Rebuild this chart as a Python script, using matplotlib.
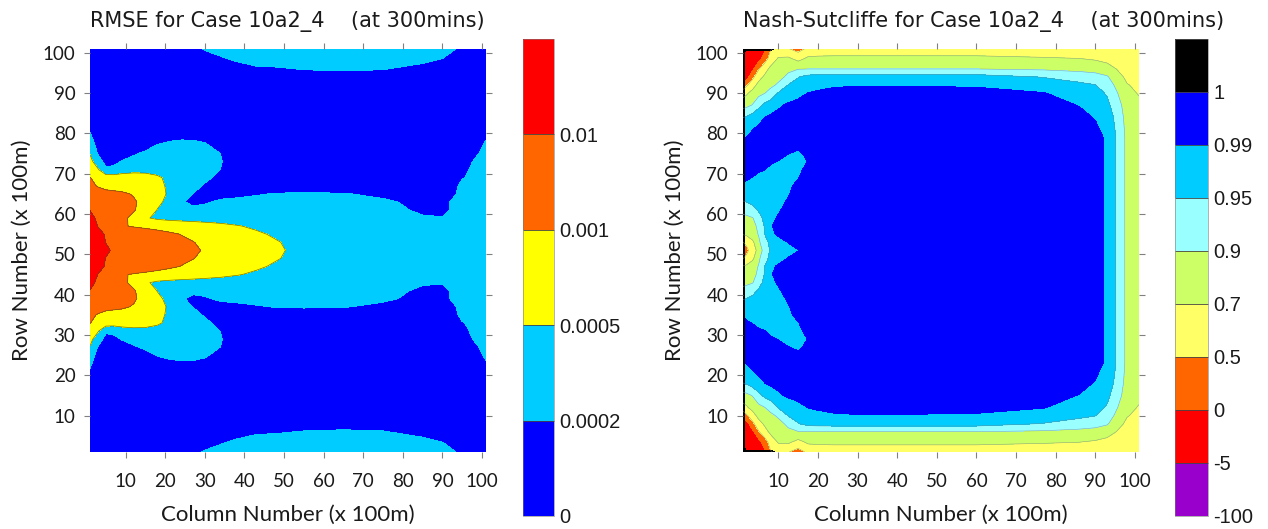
"""RMSE and Nash-Sutcliffe contour maps for case 10a2_4 at 300 mins."""

import numpy as np
import matplotlib

matplotlib.use("Agg")
import matplotlib.pyplot as plt
from matplotlib import font_manager


def pick_font(*names):
    for n in names:
        try:
            font_manager.findfont(font_manager.FontProperties(family=n), fallback_to_default=False)
            return n
        except ValueError:
            pass
    return "DejaVu Sans"


F_TITLE = pick_font("Liberation Sans Narrow", "DejaVu Sans")
F_AXIS = pick_font("Lato", "Open Sans", "DejaVu Sans")
F_CBAR = pick_font("Liberation Sans", "DejaVu Sans")
plt.rcParams["font.family"] = F_AXIS

# ── RMSE field (band position, upper half y >= 51, mirrored about row 51) ─────
# band: 0-1 <0.0002, 1-2 0.0002-0.0005, 2-3 0.0005-0.001, 3-4 0.001-0.01, 4-5 >0.01
rmse_cols = [1, 3, 5, 7, 9, 12, 15, 18, 21, 24, 27, 30, 34, 38, 43, 48, 55, 65, 75, 85, 90, 95, 101]
rmse_rows = [51, 53, 55, 57, 59, 61, 63, 65, 67, 69, 71, 73, 75, 77, 79, 82, 86, 90, 94, 97, 99, 101]
rmse_band = [
    [4.8, 4.5, 4.1, 3.92, 3.87, 3.74, 3.61, 3.48, 3.35, 3.22, 3.09, 2.95, 2.76, 2.57, 2.33, 2.1, 1.8, 1.55, 1.45, 1.4, 1.4, 1.45, 1.5],
    [4.7, 4.35, 3.98, 3.9, 3.82, 3.7, 3.57, 3.43, 3.3, 3.16, 3.02, 2.87, 2.68, 2.48, 2.27, 2.05, 1.75, 1.5, 1.4, 1.35, 1.35, 1.4, 1.45],
    [4.6, 4.2, 3.94, 3.84, 3.74, 3.59, 3.43, 3.28, 3.13, 2.98, 2.84, 2.7, 2.52, 2.34, 2.11, 1.9, 1.7, 1.5, 1.38, 1.3, 1.3, 1.35, 1.4],
    [4.4, 3.98, 3.75, 3.5, 3.08, 2.93, 2.83, 2.73, 2.63, 2.53, 2.42, 2.32, 2.19, 2.05, 1.88, 1.75, 1.6, 1.45, 1.3, 1.15, 1.12, 1.2, 1.3],
    [4.2, 3.87, 3.65, 3.43, 3.22, 2.77, 2.09, 1.85, 1.75, 1.7, 1.68, 1.66, 1.64, 1.62, 1.58, 1.52, 1.45, 1.35, 1.22, 1.06, 1.02, 1.1, 1.25],
    [3.98, 3.82, 3.67, 3.51, 3.35, 3.08, 2.58, 1.97, 1.5, 1.15, 1.2, 1.25, 1.35, 1.4, 1.45, 1.47, 1.45, 1.4, 1.2, 0.9, 0.9, 1.2, 1.35],
    [3.7, 3.6, 3.5, 3.4, 3.3, 3.12, 2.68, 2.2, 1.75, 1.1, 0.8, 0.9, 1.15, 1.25, 1.3, 1.33, 1.33, 1.3, 1.15, 0.75, 0.85, 1.25, 1.4],
    [3.35, 3.3, 3.25, 3.22, 3.15, 2.93, 2.6, 2.27, 1.9, 1.45, 0.98, 0.8, 0.7, 0.75, 0.92, 1.05, 1.1, 1.05, 0.8, 0.4, 0.55, 1.2, 1.35],
    [3.15, 2.95, 2.75, 2.65, 2.6, 2.55, 2.45, 2.25, 1.85, 1.6, 1.3, 0.9, 0.6, 0.5, 0.45, 0.45, 0.45, 0.45, 0.4, 0.3, 0.45, 1.15, 1.3],
    [3.02, 2.8, 2.55, 2.45, 2.4, 2.38, 2.33, 2.13, 1.8, 1.6, 1.45, 1.2, 0.75, 0.5, 0.4, 0.38, 0.36, 0.35, 0.33, 0.3, 0.35, 0.97, 1.25],
    [2.4, 2.1, 1.15, 1.25, 1.6, 1.75, 1.75, 1.68, 1.6, 1.5, 1.45, 1.35, 0.98, 0.5, 0.35, 0.32, 0.3, 0.3, 0.3, 0.28, 0.3, 0.92, 1.2],
    [2.3, 1.45, 0.7, 0.75, 1.05, 1.3, 1.42, 1.5, 1.52, 1.5, 1.45, 1.35, 1.05, 0.55, 0.35, 0.3, 0.28, 0.28, 0.28, 0.28, 0.28, 0.85, 1.2],
    [1.95, 0.95, 0.55, 0.5, 0.6, 0.9, 1.15, 1.35, 1.42, 1.45, 1.42, 1.32, 0.99, 0.5, 0.3, 0.28, 0.25, 0.25, 0.25, 0.25, 0.25, 0.65, 1.15],
    [1.4, 0.75, 0.45, 0.35, 0.35, 0.42, 0.7, 1.05, 1.25, 1.32, 1.3, 1.15, 0.6, 0.35, 0.25, 0.22, 0.2, 0.2, 0.2, 0.2, 0.2, 0.35, 1.1],
    [1.15, 0.6, 0.35, 0.25, 0.25, 0.3, 0.45, 0.65, 0.75, 0.85, 0.85, 0.7, 0.4, 0.25, 0.2, 0.2, 0.2, 0.2, 0.2, 0.2, 0.2, 0.25, 0.95],
    [0.8, 0.45, 0.3, 0.2, 0.2, 0.2, 0.25, 0.3, 0.35, 0.35, 0.35, 0.3, 0.25, 0.2, 0.2, 0.2, 0.2, 0.2, 0.2, 0.2, 0.2, 0.2, 0.6],
    [0.3, 0.25, 0.2, 0.2, 0.2, 0.2, 0.2, 0.2, 0.2, 0.2, 0.2, 0.2, 0.2, 0.2, 0.2, 0.2, 0.2, 0.2, 0.2, 0.2, 0.2, 0.2, 0.3],
    [0.25, 0.2, 0.2, 0.2, 0.2, 0.2, 0.2, 0.2, 0.2, 0.2, 0.2, 0.22, 0.25, 0.3, 0.4, 0.42, 0.48, 0.5, 0.48, 0.34, 0.25, 0.2, 0.2],
    [0.2, 0.2, 0.2, 0.2, 0.2, 0.2, 0.22, 0.25, 0.3, 0.35, 0.4, 0.4, 0.54, 0.66, 0.76, 0.78, 0.84, 0.86, 0.84, 0.7, 0.59, 0.3, 0.2],
    [0.2, 0.2, 0.2, 0.2, 0.2, 0.2, 0.25, 0.3, 0.4, 0.5, 0.6, 0.68, 0.81, 0.93, 1.03, 1.05, 1.11, 1.14, 1.11, 0.97, 0.86, 0.55, 0.3],
    [0.2, 0.2, 0.2, 0.2, 0.2, 0.22, 0.3, 0.4, 0.5, 0.6, 0.75, 0.86, 0.99, 1.11, 1.2, 1.23, 1.29, 1.32, 1.29, 1.15, 1.04, 0.73, 0.4],
    [0.2, 0.2, 0.2, 0.2, 0.2, 0.25, 0.35, 0.45, 0.6, 0.75, 0.9, 1.04, 1.17, 1.29, 1.39, 1.41, 1.47, 1.5, 1.47, 1.33, 1.22, 0.9, 0.5],
]
rmse_labels = ["0", "0.0002", "0.0005", "0.001", "0.01"]
rmse_colors = ["#0000FF", "#00CCFF", "#FFFF00", "#FF6600", "#FF0000"]

# ── Nash-Sutcliffe field (band position, upper half, mirrored about row 51) ───
# band: 0-1 <-5, 1-2 -5..0, 2-3 0..0.5, 3-4 0.5..0.7, 4-5 0.7..0.9,
#       5-6 0.9..0.95, 6-7 0.95..0.99, 7-8 0.99..1, 8-9 >=1
ns_cols = [1, 2, 3.5, 5, 6.5, 8, 10, 12.5, 15, 17.5, 20, 24, 30, 45, 60, 77, 86, 90, 93, 95.5, 98, 101]
ns_rows = [51, 53, 55, 57, 59, 61, 63, 65, 67, 69, 71, 73, 75, 77, 79, 81, 84, 87, 90, 92, 94, 96, 98.5, 101]
ns_band = [
    [2.5, 2.8, 3.45, 4.35, 5.4, 6.1, 6.35, 6.65, 6.98, 7.3, 7.45, 7.5, 7.5, 7.5, 7.5, 7.5, 7.45, 7.3, 6.85, 5.85, 4.75, 4.4],
    [2.95, 3.2, 3.8, 4.75, 5.75, 6.15, 6.4, 7.05, 7.2, 7.35, 7.45, 7.5, 7.5, 7.5, 7.5, 7.5, 7.45, 7.3, 6.85, 5.85, 4.75, 4.4],
    [4.05, 4.2, 4.55, 5.05, 5.98, 6.6, 7.25, 7.4, 7.45, 7.5, 7.5, 7.5, 7.5, 7.5, 7.5, 7.5, 7.45, 7.3, 6.85, 5.85, 4.75, 4.4],
    [4.3, 4.4, 4.7, 5.2, 6.05, 6.9, 7.3, 7.45, 7.5, 7.5, 7.5, 7.5, 7.5, 7.5, 7.5, 7.5, 7.45, 7.3, 6.85, 5.85, 4.75, 4.4],
    [4.7, 4.8, 4.95, 5.5, 6.3, 6.75, 7.1, 7.4, 7.5, 7.5, 7.5, 7.5, 7.5, 7.5, 7.5, 7.5, 7.45, 7.3, 6.85, 5.85, 4.75, 4.4],
    [5.3, 5.4, 5.7, 6.1, 6.4, 6.6, 6.9, 7.3, 7.45, 7.5, 7.5, 7.5, 7.5, 7.5, 7.5, 7.5, 7.45, 7.3, 6.85, 5.85, 4.75, 4.4],
    [5.9, 6.02, 6.2, 6.35, 6.45, 6.55, 6.75, 7.1, 7.4, 7.5, 7.5, 7.5, 7.5, 7.5, 7.5, 7.5, 7.45, 7.3, 6.85, 5.85, 4.75, 4.4],
    [6.6, 6.55, 6.5, 6.5, 6.55, 6.6, 6.75, 6.95, 7.3, 7.45, 7.5, 7.5, 7.5, 7.5, 7.5, 7.5, 7.45, 7.3, 6.85, 5.85, 4.75, 4.4],
    [6.95, 6.8, 6.7, 6.65, 6.65, 6.65, 6.7, 6.85, 7.2, 7.45, 7.5, 7.5, 7.5, 7.5, 7.5, 7.5, 7.45, 7.3, 6.85, 5.85, 4.75, 4.4],
    [7.2, 7.1, 6.98, 6.8, 6.7, 6.65, 6.65, 6.75, 6.97, 7.35, 7.5, 7.5, 7.5, 7.5, 7.5, 7.5, 7.45, 7.3, 6.85, 5.85, 4.75, 4.4],
    [7.4, 7.3, 7.2, 7.1, 7.02, 6.85, 6.72, 6.7, 6.85, 7.2, 7.45, 7.5, 7.5, 7.5, 7.5, 7.5, 7.45, 7.3, 6.85, 5.85, 4.75, 4.4],
    [7.5, 7.45, 7.4, 7.3, 7.2, 7.1, 6.97, 6.8, 6.78, 7.02, 7.4, 7.5, 7.5, 7.5, 7.5, 7.5, 7.45, 7.3, 6.85, 5.85, 4.75, 4.4],
    [7.5, 7.5, 7.45, 7.4, 7.35, 7.3, 7.2, 7.02, 6.88, 7.15, 7.45, 7.5, 7.5, 7.5, 7.5, 7.5, 7.45, 7.3, 6.85, 5.85, 4.75, 4.4],
    [7.2, 7.35, 7.45, 7.5, 7.5, 7.45, 7.4, 7.3, 7.15, 7.3, 7.45, 7.5, 7.5, 7.5, 7.5, 7.5, 7.45, 7.3, 6.85, 5.85, 4.75, 4.4],
    [6.9, 7.02, 7.15, 7.3, 7.4, 7.45, 7.5, 7.5, 7.5, 7.5, 7.5, 7.5, 7.5, 7.5, 7.5, 7.5, 7.45, 7.3, 6.85, 5.85, 4.75, 4.4],
    [6.7, 6.8, 6.98, 7.15, 7.25, 7.35, 7.42, 7.48, 7.5, 7.5, 7.5, 7.5, 7.5, 7.5, 7.5, 7.5, 7.35, 7.15, 6.7, 5.8, 4.7, 4.4],
    [5.95, 6.1, 6.45, 6.75, 6.98, 7.15, 7.28, 7.38, 7.44, 7.47, 7.5, 7.5, 7.5, 7.5, 7.5, 7.45, 7.2, 6.95, 6.5, 5.7, 4.6, 4.3],
    [4.6, 4.75, 5.05, 5.7, 6.2, 6.45, 6.85, 7.15, 7.3, 7.38, 7.42, 7.45, 7.45, 7.45, 7.4, 7.3, 6.97, 6.6, 6.2, 5.5, 4.4, 4.15],
    [3.6, 3.85, 4.35, 4.7, 4.95, 5.35, 6.05, 6.4, 6.7, 7.02, 7.15, 7.25, 7.3, 7.3, 7.25, 7.03, 6.6, 6.3, 5.9, 5.05, 4.2, 3.95],
    [2.05, 2.85, 3.55, 4.3, 4.55, 4.75, 5.15, 6.02, 6.35, 6.55, 6.7, 6.88, 6.95, 6.93, 6.9, 6.55, 6.2, 6.02, 5.6, 4.7, 4.05, 3.8],
    [1.3, 1.55, 2.75, 3.6, 4.15, 4.4, 4.7, 5.2, 5.95, 6.3, 6.38, 6.4, 6.4, 6.4, 6.4, 5.95, 5.6, 5.4, 5.1, 4.35, 3.8, 3.65],
    [1.2, 1.35, 1.75, 2.9, 3.6, 4.2, 4.5, 4.8, 4.95, 4.98, 4.98, 4.98, 4.98, 4.98, 4.98, 4.85, 4.7, 4.6, 4.4, 3.95, 3.6, 3.5],
    [1.1, 1.15, 1.3, 1.6, 2.5, 3.4, 4.1, 4.2, 3.7, 4.2, 4.25, 4.25, 4.25, 4.25, 4.25, 4.1, 4.02, 3.9, 3.7, 3.5, 3.35, 3.3],
    [1.05, 1.05, 1.1, 1.3, 1.7, 2.9, 3.35, 3.05, 2.6, 3.2, 3.3, 3.4, 3.4, 3.4, 3.4, 3.4, 3.35, 3.3, 3.2, 3.1, 3.1, 3.0],
]
# cells with NS >= 1 (black): thin strip on the left edge and the two left corners
ns_one_cols = [1, 1.9, 8, 10, 101]
ns_one_rows = [1, 1.9, 100.1, 101]
ns_one_flag = [
    [1, 1, 1, 0, 0],
    [1, 0, 0, 0, 0],
    [1, 0, 0, 0, 0],
    [1, 1, 1, 0, 0],
]
ns_labels = ["-100", "-5", "0", "0.5", "0.7", "0.9", "0.95", "0.99", "1"]
ns_colors = ["#9900CC", "#FF0000", "#FF6600", "#FFFF66", "#CCFF66",
             "#99FFFF", "#00CCFF", "#0000FF", "#000000"]

TICKS = list(range(10, 101, 10))
C_TICK = "#808080"
C_TXT = "#1a1a1a"


def mirror(rows, band):
    """Upper half (rows >= 51) -> full field, symmetric about row 51."""
    ys = np.asarray(rows, float)
    z = np.asarray(band, float)
    return np.concatenate([102 - ys[:0:-1], ys]), np.vstack([z[:0:-1], z])


def style_axes(ax, title):
    ax.set_xlim(1, 101)
    ax.set_ylim(1, 101)
    ax.set_xticks(TICKS)
    ax.set_yticks(TICKS)
    for s in ax.spines.values():
        s.set_visible(False)
    ax.tick_params(direction="out", length=4.5, width=0.8, color=C_TICK,
                   top=True, right=True, labelsize=13.5, labelcolor=C_TXT)
    ax.tick_params(axis="x", pad=10.5)
    ax.tick_params(axis="y", pad=6)
    ax.text(0, 1.054, title, transform=ax.transAxes, ha="left", va="baseline",
            fontsize=15, family=F_TITLE, color=C_TXT)
    ax.text(0.5, -0.157, "Column Number (x 100m)", transform=ax.transAxes,
            ha="center", va="center", fontsize=16, color=C_TXT)
    ax.text(-0.172, 0.5, "Row Number (x 100m)", transform=ax.transAxes, rotation=90,
            ha="center", va="center", fontsize=16, color=C_TXT)


def add_cbar(fig, cs, cax, labels):
    cb = fig.colorbar(cs, cax=cax, ticks=np.arange(len(labels)), drawedges=True)
    cb.set_ticklabels(labels)
    cb.ax.tick_params(length=0, pad=4, labelsize=14.5, labelcolor=C_TXT)
    for t in cb.ax.get_yticklabels():
        t.set_fontfamily(F_CBAR)
    cb.outline.set_linewidth(0.4)
    cb.outline.set_edgecolor("#777777")
    cb.dividers.set_color("#444444")
    cb.dividers.set_linewidth(0.6)
    return cb


fig = plt.figure(figsize=(12.68, 5.29), dpi=100, facecolor="white")
ax1 = fig.add_axes([0.0710, 0.1456, 0.3123, 0.7624])
cax1 = fig.add_axes([0.4125, 0.0246, 0.0245, 0.9017])
ax2 = fig.add_axes([0.5857, 0.1456, 0.3125, 0.7624])
cax2 = fig.add_axes([0.9267, 0.0246, 0.0260, 0.9017])

# ── RMSE panel ────────────────────────────────────────────────────────────────
ry, rz = mirror(rmse_rows, rmse_band)
cs1 = ax1.contourf(rmse_cols, ry, rz, levels=np.arange(len(rmse_colors) + 1), colors=rmse_colors)
ax1.contour(rmse_cols, ry, rz, levels=[2, 3, 4], colors="#4d4d1a", linewidths=0.5, alpha=0.8)
style_axes(ax1, "RMSE for Case 10a2_4    (at 300mins)")
add_cbar(fig, cs1, cax1, rmse_labels)

# ── Nash-Sutcliffe panel ──────────────────────────────────────────────────────
ny, nz = mirror(ns_rows, ns_band)
cs2 = ax2.contourf(ns_cols, ny, nz, levels=np.arange(len(ns_colors) + 1), colors=ns_colors)
ax2.contour(ns_cols, ny, nz, levels=[3, 4, 5, 6], colors="#808080", linewidths=0.4, alpha=0.7)
ax2.contourf(ns_one_cols, ns_one_rows, ns_one_flag, levels=[0.5, 1.5], colors=["#000000"])
style_axes(ax2, "Nash-Sutcliffe for Case 10a2_4    (at 300mins)")
add_cbar(fig, cs2, cax2, ns_labels)

fig.savefig("out.png", dpi=100, facecolor="white")
